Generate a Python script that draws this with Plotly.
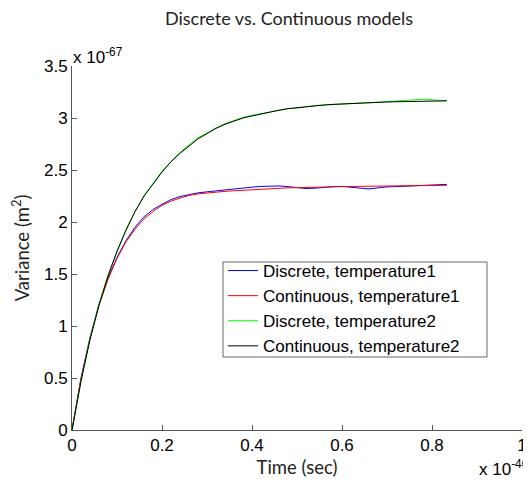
import plotly.graph_objects as go

# time (x 1e-40 s)
time = [0.00, 0.02, 0.04, 0.06, 0.08, 0.10, 0.12, 0.14, 0.16, 0.18,
        0.20, 0.22, 0.24, 0.26, 0.28, 0.30, 0.32, 0.34, 0.36, 0.38,
        0.40, 0.42, 0.44, 0.46, 0.48, 0.50, 0.52, 0.54, 0.56, 0.58,
        0.60, 0.62, 0.64, 0.66, 0.68, 0.70, 0.72, 0.74, 0.76, 0.78,
        0.80, 0.833]

# variance (x 1e-67 m^2)
discrete_t1 = [0.00, 0.50, 0.89, 1.21, 1.46, 1.66, 1.82, 1.95, 2.05, 2.12,
               2.17, 2.215, 2.245, 2.265, 2.28, 2.29, 2.30, 2.305, 2.315, 2.325,
               2.335, 2.342, 2.345, 2.347, 2.34, 2.33, 2.322, 2.325, 2.335, 2.34,
               2.342, 2.335, 2.325, 2.318, 2.328, 2.338, 2.34, 2.345, 2.348, 2.352,
               2.36, 2.362]
continuous_t1 = [0.00, 0.49, 0.88, 1.20, 1.45, 1.65, 1.81, 1.93, 2.03, 2.10,
                 2.16, 2.20, 2.23, 2.255, 2.27, 2.28, 2.29, 2.295, 2.30, 2.306,
                 2.311, 2.316, 2.32, 2.324, 2.328, 2.331, 2.334, 2.336, 2.338, 2.34,
                 2.341, 2.342, 2.343, 2.344, 2.345, 2.346, 2.347, 2.348, 2.349, 2.35,
                 2.351, 2.353]
discrete_t2 = [0.00, 0.47, 0.88, 1.21, 1.49, 1.72, 1.93, 2.10, 2.25, 2.37,
               2.49, 2.58, 2.67, 2.74, 2.81, 2.855, 2.905, 2.945, 2.975, 3.005,
               3.025, 3.04, 3.055, 3.075, 3.09, 3.095, 3.11, 3.12, 3.125, 3.13,
               3.14, 3.145, 3.15, 3.148, 3.152, 3.158, 3.165, 3.17, 3.178, 3.18,
               3.175, 3.165]
continuous_t2 = [0.00, 0.47, 0.87, 1.20, 1.48, 1.72, 1.92, 2.10, 2.25, 2.37,
                 2.48, 2.58, 2.66, 2.73, 2.80, 2.85, 2.90, 2.94, 2.97, 3.00,
                 3.02, 3.04, 3.06, 3.075, 3.09, 3.10, 3.11, 3.118, 3.125, 3.131,
                 3.136, 3.14, 3.144, 3.148, 3.151, 3.154, 3.156, 3.158, 3.16, 3.162,
                 3.163, 3.165]

series_names = ["Discrete, temperature1", "Continuous, temperature1",
                "Discrete, temperature2", "Continuous, temperature2"]
series_values = [discrete_t1, continuous_t1, discrete_t2, continuous_t2]
series_colors = ["#0000ff", "#ff0000", "#00ff00", "#000000"]

x_ticks = [0, 0.2, 0.4, 0.6, 0.8, 1]
x_ticktext = ["0", "0.2", "0.4", "0.6", "0.8", "1"]
y_ticks = [0, 0.5, 1, 1.5, 2, 2.5, 3, 3.5]
y_ticktext = ["0", "0.5", "1", "1.5", "2", "2.5", "3", "3.5"]

fig = go.Figure()
for name, vals, col in zip(series_names, series_values, series_colors):
    fig.add_trace(go.Scatter(x=time, y=vals, mode="lines", name=name,
                             line=dict(color=col, width=1)))

tick_font = dict(family="Liberation Sans, Arial, sans-serif", size=17, color="#000")
label_font = dict(family="Lato, Open Sans, sans-serif", size=18.5, color="#222")
title_font = dict(family="Lato, Open Sans, sans-serif", size=18, color="#222")

# the page body has an 8px margin, so the figure sits at (8, 8) in the window
OFF = 8
W, H = 531 - OFF, 484 - OFF
L, R, T, B = 72 - OFF, 9, 66 - OFF, 54
pw, ph = W - L - R, H - T - B


def px(xs):
    return (xs - 72) / pw


def py(ys):
    return (430 - ys) / ph


fig.update_layout(
    width=W, height=H,
    margin=dict(l=L, r=R, t=T, b=B, autoexpand=False),
    paper_bgcolor="white", plot_bgcolor="white",
    showlegend=True,
    title=dict(text="Discrete vs. Continuous models", font=title_font,
               x=(289 - OFF) / W, xanchor="center", y=1 - (19 - OFF) / H,
               yanchor="middle"),
    xaxis=dict(range=[0, 1], tickvals=x_ticks, ticktext=x_ticktext,
               ticks="inside", ticklen=5, tickcolor="#555", showgrid=False,
               zeroline=False, showline=True, linecolor="#555", linewidth=1,
               tickfont=tick_font, automargin=False,
               title=dict(text="Time (sec)", font=label_font, standoff=6)),
    yaxis=dict(range=[0, 3.5], tickvals=y_ticks, ticktext=y_ticktext,
               ticks="inside", ticklen=5, tickcolor="#555", showgrid=False,
               zeroline=False, showline=True, linecolor="#555", linewidth=1,
               tickfont=tick_font, automargin=False,
               title=dict(text="Variance (m<sup>2</sup>)", font=label_font,
                          standoff=13)),
    legend=dict(x=px(223), y=py(253), xanchor="left", yanchor="top",
                bgcolor="rgba(0,0,0,0)", borderwidth=0,
                font=tick_font, tracegroupgap=0),
)

# legend frame
fig.add_shape(type="rect", xref="paper", yref="paper",
              x0=px(223), x1=px(487), y0=py(357), y1=py(262),
              line=dict(color="#666", width=1), fillcolor="white", layer="below")

fig.add_annotation(text="x 10<sup>-67</sup>", xref="paper", yref="paper",
                   x=-0.002, y=py(56), xanchor="left", yanchor="middle",
                   showarrow=False, font=tick_font)
fig.add_annotation(text="x 10<sup>-40</sup>", xref="paper", yref="paper",
                   x=px(477), y=py(468), xanchor="left", yanchor="middle",
                   showarrow=False, font=tick_font)

fig.write_html("out.html")
